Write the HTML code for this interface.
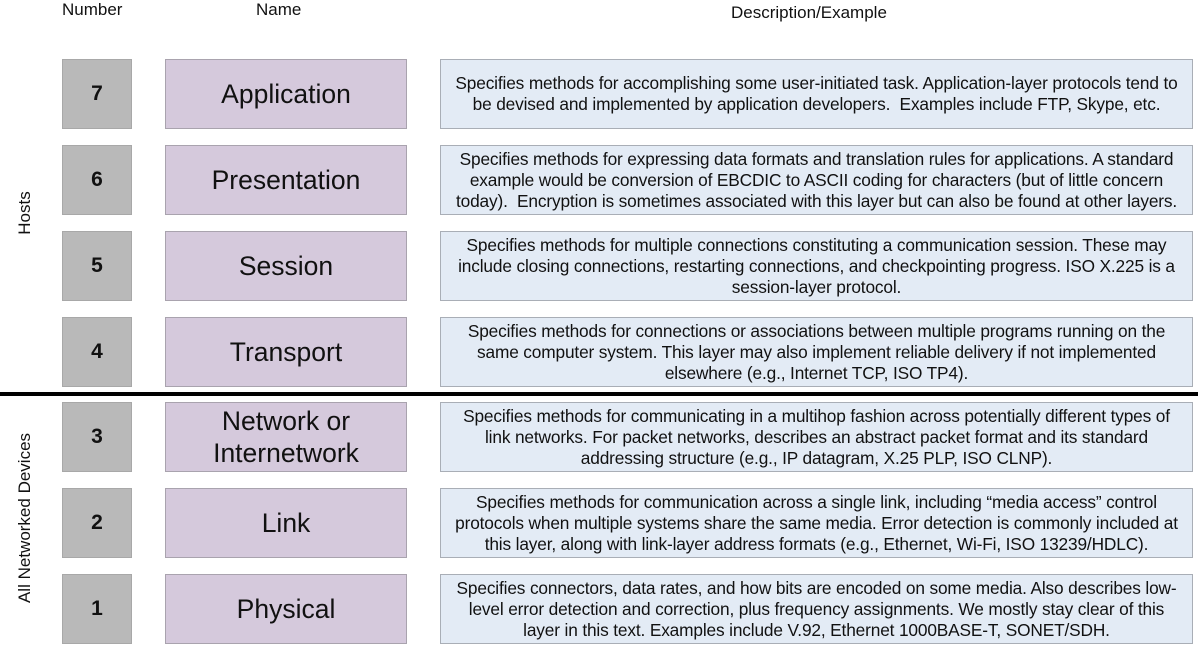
<!DOCTYPE html>
<html><head><meta charset="utf-8"><style>
body{margin:0;width:1198px;height:645px;background:#fff;position:relative;overflow:hidden;font-family:"Liberation Sans",Arial,sans-serif;color:#111}
.h{position:absolute;top:0;font-size:17px}
.n,.m,.d{position:absolute;box-sizing:border-box;height:70px;display:flex;align-items:center;justify-content:center;text-align:center}
.n{left:62px;width:70px;background:#b9b9b9;border:1px solid #a8a8a8;font-weight:bold;font-size:21px}
.m{left:165px;width:242px;background:#d5c9dc;border:1px solid #a9a3ae;font-size:26.5px;line-height:32px}
.d{left:440px;width:753px;background:#e3ebf5;border:1px solid #a9aeb6;font-size:17.3px;line-height:21px;letter-spacing:-0.15px;white-space:nowrap}
.v{position:absolute;transform:rotate(-90deg);transform-origin:center;font-size:17px;white-space:nowrap;text-align:center;width:300px}
</style></head><body>
<div class="h" style="left:62px">Number</div>
<div class="h" style="left:256px">Name</div>
<div class="h" style="left:731px;top:3px">Description/Example</div>
<div class="v" style="left:-125px;top:203px">Hosts</div>
<div class="v" style="left:-125px;top:508px">All Networked Devices</div>
<div style="position:absolute;left:0;top:392px;width:1198px;height:4px;background:#000"></div>

<div class="n" style="top:59px">7</div><div class="m" style="top:59px">Application</div>
<div class="d" style="top:59px">Specifies methods for accomplishing some user-initiated task. Application-layer protocols tend to<br>be devised and implemented by application developers.&nbsp; Examples include FTP, Skype, etc.</div>

<div class="n" style="top:145px">6</div><div class="m" style="top:145px">Presentation</div>
<div class="d" style="top:145px">Specifies methods for expressing data formats and translation rules for applications. A standard<br>example would be conversion of EBCDIC to ASCII coding for characters (but of little concern<br>today).&nbsp; Encryption is sometimes associated with this layer but can also be found at other layers.</div>

<div class="n" style="top:231px">5</div><div class="m" style="top:231px">Session</div>
<div class="d" style="top:231px">Specifies methods for multiple connections constituting a communication session. These may<br>include closing connections, restarting connections, and checkpointing progress. ISO X.225 is a<br>session-layer protocol.</div>

<div class="n" style="top:317px">4</div><div class="m" style="top:317px">Transport</div>
<div class="d" style="top:317px">Specifies methods for connections or associations between multiple programs running on the<br>same computer system. This layer may also implement reliable delivery if not implemented<br>elsewhere (e.g., Internet TCP, ISO TP4).</div>

<div class="n" style="top:402px">3</div><div class="m" style="top:402px">Network or<br>Internetwork</div>
<div class="d" style="top:402px">Specifies methods for communicating in a multihop fashion across potentially different types of<br>link networks. For packet networks, describes an abstract packet format and its standard<br>addressing structure (e.g., IP datagram, X.25 PLP, ISO CLNP).</div>

<div class="n" style="top:488px">2</div><div class="m" style="top:488px">Link</div>
<div class="d" style="top:488px">Specifies methods for communication across a single link, including “media access” control<br>protocols when multiple systems share the same media. Error detection is commonly included at<br>this layer, along with link-layer address formats (e.g., Ethernet, Wi-Fi, ISO 13239/HDLC).</div>

<div class="n" style="top:574px">1</div><div class="m" style="top:574px">Physical</div>
<div class="d" style="top:574px">Specifies connectors, data rates, and how bits are encoded on some media. Also describes low-<br>level error detection and correction, plus frequency assignments. We mostly stay clear of this<br>layer in this text. Examples include V.92, Ethernet 1000BASE-T, SONET/SDH.</div>
</body></html>
